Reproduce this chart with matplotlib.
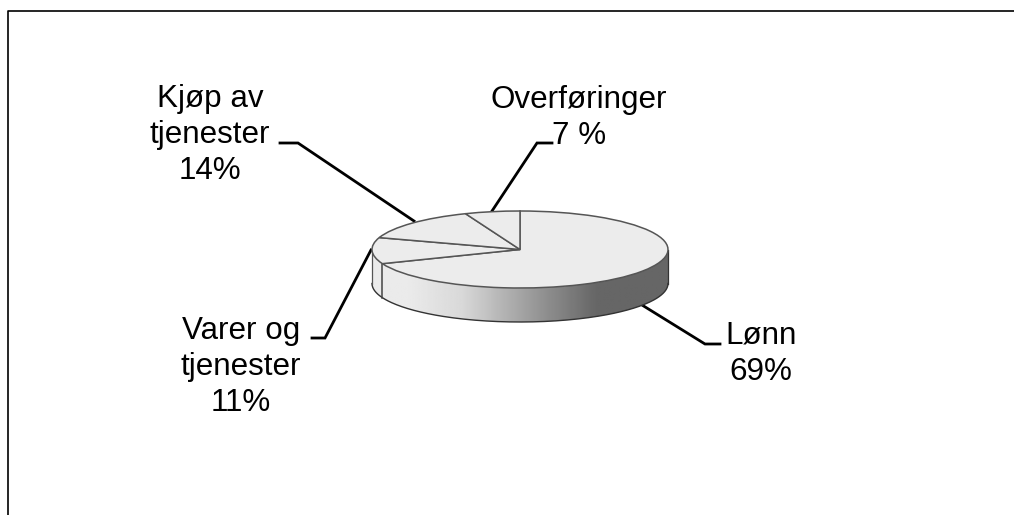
import numpy as np
import matplotlib
matplotlib.use("Agg")
import matplotlib.pyplot as plt
from matplotlib.patches import Polygon
from matplotlib.transforms import Affine2D

# Slices as drawn (the printed labels add up to 101, the 7 % slice is drawn as about 6)
labels = ["Lønn\n69%", "Varer og\ntjenester\n11%", "Kjøp av\ntjenester\n14%", "Overføringer\n7 %"]
values = [69, 11, 14, 6]

# Grey shades along the side of the disc
side_stops = [0.0, 0.12, 0.30, 0.45, 0.60, 0.76, 1.0]
side_greys = [0.92, 0.92, 0.85, 0.70, 0.55, 0.40, 0.40]

W, H = 1014, 515
cx, cy, rx, ry, depth = 520, 249.5, 148, 38.5, 34

plt.rcParams["font.family"] = ["Liberation Sans", "DejaVu Sans"]

fig = plt.figure(figsize=(W / 100, H / 100), dpi=100)
ax = fig.add_axes([0, 0, 1, 1])

wedges, _ = ax.pie(values, startangle=90, counterclock=False, radius=1, center=(0, 0),
                   colors=["#ececec"] * len(values),
                   wedgeprops={"edgecolor": "#555555", "linewidth": 1.1, "zorder": 5})
for w in wedges:
    w.set_zorder(5)

# the unit circle becomes the ellipse of the picture
ax.set_aspect("auto")
ax.set_xlim(-cx / rx, (W - cx) / rx)
ax.set_ylim((cy - H) / ry, cy / ry)
ax.axis("off")

# pixel coordinates for leaders and labels
px = Affine2D().scale(1, -1).translate(0, H)

# side of the disc
drop = depth / ry
t = np.linspace(np.pi, 2 * np.pi, 200)
xs = np.cos(t)
ys = np.sin(t)
side_x = np.r_[xs, xs[::-1]]
side_y = np.r_[ys, ys[::-1] - drop]
side = Polygon(np.c_[side_x, side_y], closed=True, facecolor="none", edgecolor="none")
ax.add_patch(side)
grad_x = np.linspace(0, 1, 256)
grad = np.interp(grad_x, side_stops, side_greys)[None, :]
img = ax.imshow(grad, cmap="gray", vmin=0, vmax=1, extent=(-1, 1, -1 - drop, 0),
                aspect="auto", zorder=2)
img.set_clip_path(side)
ax.set_xlim(-cx / rx, (W - cx) / rx)
ax.set_ylim((cy - H) / ry, cy / ry)
ax.plot(xs, ys - drop, color="#333333", lw=1.0, zorder=3)
ax.plot([-1, -1], [0, -drop], color="#555555", lw=0.9, zorder=3)
ax.plot([1, 1], [0, -drop], color="#333333", lw=0.9, zorder=3)

# edge between Lønn and Varer on the side
a = np.deg2rad(90 - 360 * values[0] / sum(values))
ax.plot([np.cos(a)] * 2, [np.sin(a), np.sin(a) - drop], color="#444444", lw=1.1, zorder=3)

# leaders
leaders = [
    ([642, 705, 720], [305, 344, 344]),
    ([371, 325, 312], [250, 338, 338]),
    ([414, 298, 280], [221, 143, 143]),
    ([492, 537, 552], [211, 143, 143]),
]
for lx, ly in leaders:
    ax.plot(lx, ly, color="black", lw=2, transform=px, zorder=1, solid_joinstyle="miter")

label_pos = [(761, 353.5), (241, 367), (210, 135), (579, 118)]
for s, (x, y) in zip(labels, label_pos):
    ax.text(x, y, s, transform=px, ha="center", va="center", fontsize=22.6,
            linespacing=1.27, color="black")

# frame, open at the right and bottom
ax.plot([8, 8, W], [H, 11, 11], color="black", lw=1.2, transform=px, zorder=6)

fig.savefig("out.png", dpi=100)
